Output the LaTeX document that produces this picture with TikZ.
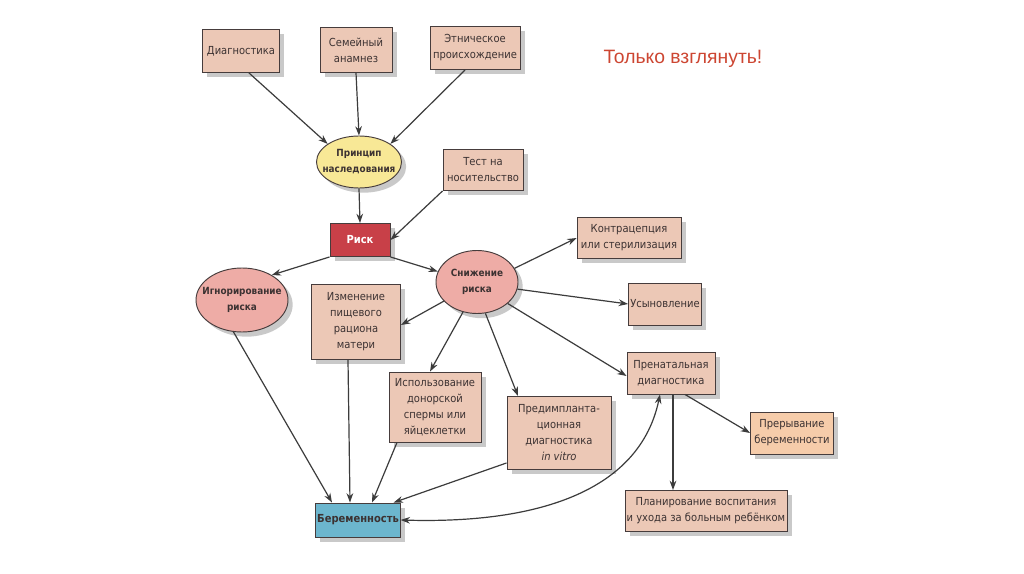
\documentclass[tikz,border=0pt]{standalone}
\usepackage{fontspec}
\setmainfont{DejaVu Sans Condensed}
\newfontfamily\redfont{Liberation Sans}
\usetikzlibrary{shapes.geometric,shadows,arrows.meta}
\definecolor{boxfill}{RGB}{236,200,182}
\definecolor{orfill}{RGB}{246,204,170}
\definecolor{boxline}{RGB}{70,60,60}
\definecolor{yelfill}{RGB}{248,232,150}
\definecolor{pinkfill}{RGB}{238,172,166}
\definecolor{redfill}{RGB}{200,64,72}
\definecolor{bluefill}{RGB}{108,182,206}
\definecolor{txt}{RGB}{60,50,50}
\definecolor{arr}{RGB}{60,60,60}
\definecolor{redtxt}{RGB}{205,70,50}
\begin{document}
\begin{tikzpicture}[x=0.75pt,y=-0.75pt,
  sz/.style 2 args={minimum width=#1*0.75pt, minimum height=#2*0.75pt},
  base/.style={draw=boxline, line width=0.7pt, align=center, text=txt, inner sep=1pt,
    font=\fontsize{8.3}{12}\selectfont,
    drop shadow={shadow xshift=3.5pt, shadow yshift=-3.5pt, fill=black!35, opacity=0.6}},
  bx/.style={base, rectangle, fill=boxfill},
  ell/.style={base, ellipse, inner sep=0pt,
    label={[align=center, text=txt, font=\bfseries\fontsize{7.4}{12}\selectfont]center:#1}},
  con/.style={draw=arr, line width=0.9pt, -{Stealth[length=7pt,width=5pt]}}
]
\useasboundingbox[fill=white] (0,0) rectangle (1024,574);

\node[bx, sz={77}{43}] (diag) at (241,51) {Диагностика};
\node[bx, sz={72}{45}] (sem) at (356,50) {Семейный\\анамнез};
\node[bx, sz={90}{43}] (eth) at (475,48) {Этническое\\происхождение};
\node[ell={Принцип\\наследования}, fill=yelfill, sz={85}{52}] (prin) at (359,162) {};
\node[bx, sz={80}{41}] (test) at (483,170) {Тест на\\носительство};
\node[bx, fill=redfill, text=white, font=\bfseries\fontsize{8.3}{12}\selectfont, sz={60}{33}] (risk) at (360,240) {Риск};
\node[ell={Игнорирование\\риска}, fill=pinkfill, sz={92}{64}] (ign) at (242,300) {};
\node[ell={Снижение\\риска}, fill=pinkfill, sz={82}{63}] (sni) at (477,282) {};
\node[bx, sz={89}{75}] (izm) at (356,322) {Изменение\\пищевого\\рациона\\матери};
\node[bx, sz={104}{41}] (kon) at (629,238) {Контрацепция\\или стерилизация};
\node[bx, sz={73}{42}] (usy) at (665,304) {Усыновление};
\node[bx, sz={88}{42}] (pren) at (671,373) {Пренатальная\\диагностика};
\node[bx, sz={92}{70}] (isp) at (435,407) {Использование\\донорской\\спермы или\\яйцеклетки};
\node[bx, sz={104}{73}] (pred) at (559,433) {Предимпланта-\\ционная\\диагностика\\\textit{in vitro}};
\node[bx, fill=orfill, sz={83}{42}] (prer) at (792,433) {Прерывание\\беременности};
\node[bx, sz={162}{41}] (plan) at (706,511) {Планирование воспитания\\и ухода за больным ребёнком};
\node[bx, fill=bluefill, font=\bfseries\fontsize{8.3}{12}\selectfont, sz={82}{34}] (ber) at (358,520) {Беременность};
\node[text=redtxt, font=\redfont\fontsize{14.5}{16}\selectfont] (title) at (683,59) {Только взглянуть!};

\draw[con] (diag.south) ++(8,0) -- (prin.150);
\draw[con] (sem.south) -- (prin.north);
\draw[con] ([xshift=-10*0.75pt]eth.south) -- (prin.30);
\draw[con] (prin.south) -- (risk.north);
\draw[con] (test.south west) -- (risk.east);
\draw[con] (risk.south west) -- (ign.40);
\draw[con] (risk.south east) -- (sni.165);
\draw[con] (sni.20) -- (kon.west);
\draw[con] (sni.-10) -- (usy.west);
\draw[con] (sni.-35) -- ([yshift=-3*0.75pt]pren.west);
\draw[con] (sni.-150) -- ([yshift=-3*0.75pt]izm.east);
\draw[con] (sni.-115) -- ([xshift=-5*0.75pt]isp.north);
\draw[con] (sni.-75) -- ([xshift=-41*0.75pt]pred.north);
\draw[con] (ign.-105) -- ([xshift=-26*0.75pt]ber.north);
\draw[con] ([xshift=-8*0.75pt]izm.south) -- ([xshift=-8*0.75pt]ber.north);
\draw[con] ([xshift=-38*0.75pt]isp.south) -- ([xshift=14*0.75pt]ber.north);
\draw[con] (pred.south west) ++(0,-7) -- ([xshift=-7*0.75pt]ber.north east);
\draw[draw=arr, line width=0.9pt, {Stealth[length=7pt,width=5pt]}-{Stealth[length=7pt,width=5pt]}]
  (ber.east) .. controls (540,524) and (640,490) .. ([xshift=-11*0.75pt]pren.south);
\draw[con] ([xshift=2*0.75pt]pren.south) -- ([xshift=-33*0.75pt]plan.north);
\draw[con] ([xshift=14*0.75pt]pren.south) -- (prer.west);
\end{tikzpicture}
\end{document}
